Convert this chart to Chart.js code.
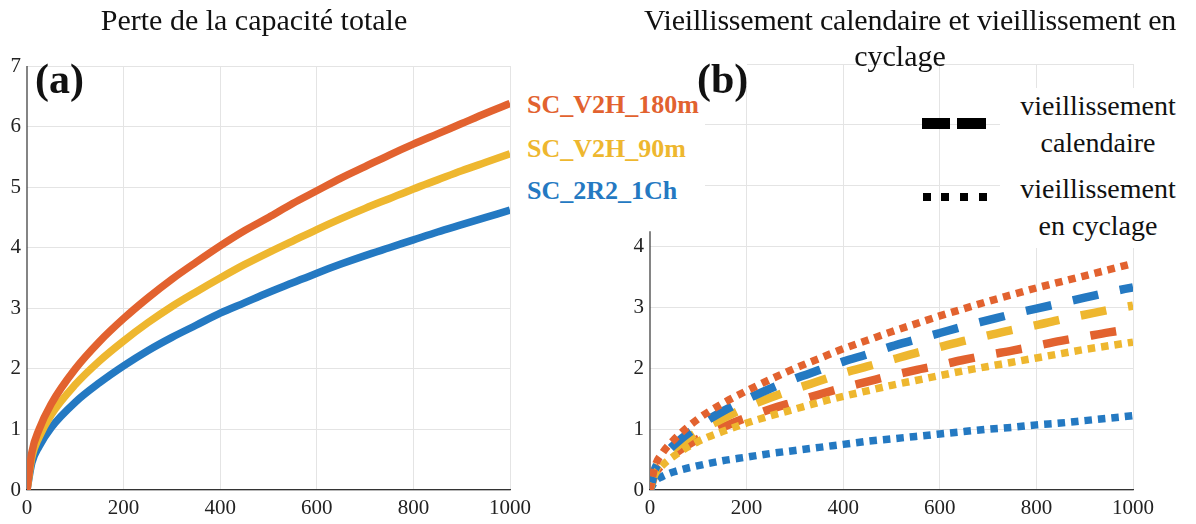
<!DOCTYPE html>
<html>
<head>
<meta charset="utf-8">
<script src="https://cdn.jsdelivr.net/npm/chart.js@4"></script>
<style>
  html, body { margin:0; padding:0; background:#fff; }
  body { width:1196px; height:524px; position:relative; overflow:hidden; font-family:"Liberation Serif","DejaVu Serif",serif; color:#111; }
  .box { position:absolute; }
  .lbl { position:absolute; white-space:nowrap; line-height:1; }
  .white { background:#fff; }
</style>
</head>
<body>
<div class="box" id="wa" style="left:0;top:0;width:560px;height:524px;"><canvas id="ca"></canvas></div>
<div class="box" id="wb" style="left:600px;top:0;width:596px;height:524px;"><canvas id="cb"></canvas></div>

<!-- titles -->
<div class="lbl" style="left:254px;top:5px;transform:translateX(-50%);font-size:30px;">Perte de la capacité totale</div>
<div class="lbl" style="left:910px;top:5px;transform:translateX(-50%);font-size:30px;letter-spacing:-0.2px;">Vieillissement calendaire et vieillissement en</div>
<div class="lbl" style="left:900px;top:41px;transform:translateX(-50%);font-size:30px;">cyclage</div>

<!-- left legend -->
<div class="lbl white" style="left:518px;top:86px;width:187px;height:124px;"></div>
<div class="lbl" style="left:527px;top:92px;font-size:26px;font-weight:bold;color:#E2622F;">SC_V2H_180m</div>
<div class="lbl" style="left:527px;top:136px;font-size:26px;font-weight:bold;color:#EEB72F;">SC_V2H_90m</div>
<div class="lbl" style="left:527px;top:178px;font-size:26px;font-weight:bold;color:#2479C2;">SC_2R2_1Ch</div>

<!-- panel labels -->
<div class="lbl" style="left:35px;top:58px;font-size:42px;font-weight:bold;">(a)</div>
<div class="lbl white" style="left:650px;top:56px;width:97px;height:30px;"></div>
<div class="lbl" style="left:697px;top:58px;font-size:42px;font-weight:bold;">(b)</div>

<!-- right legend -->
<div class="lbl white" style="left:1000px;top:88px;width:196px;height:160px;"></div>
<div class="lbl" style="left:922px;top:118px;width:28px;height:11px;background:#000;"></div>
<div class="lbl" style="left:957px;top:118px;width:29px;height:11px;background:#000;"></div>
<div class="lbl" style="left:923px;top:193px;width:8px;height:8px;background:#000;"></div>
<div class="lbl" style="left:941px;top:193px;width:8px;height:8px;background:#000;"></div>
<div class="lbl" style="left:960px;top:193px;width:8px;height:8px;background:#000;"></div>
<div class="lbl" style="left:979px;top:193px;width:8px;height:8px;background:#000;"></div>
<div class="lbl" style="left:1098px;top:92px;transform:translateX(-50%);font-size:28px;">vieillissement</div>
<div class="lbl" style="left:1098px;top:129px;transform:translateX(-50%);font-size:28px;">calendaire</div>
<div class="lbl" style="left:1098px;top:175px;transform:translateX(-50%);font-size:28px;">vieillissement</div>
<div class="lbl" style="left:1098px;top:212px;transform:translateX(-50%);font-size:28px;">en cyclage</div>

<script>
// ---- data ----
const days = [0,10,25,50,100,150,200,250,300,350,400,450,500,550,600,650,700,750,800,850,900,950,1000];

// (a) total capacity loss
const totalV2H180 = [0,0.62,1.0,1.42,2.0,2.45,2.83,3.17,3.48,3.76,4.03,4.28,4.5,4.73,4.94,5.15,5.34,5.53,5.71,5.88,6.05,6.22,6.38];
const totalV2H90  = [0,0.54,0.87,1.24,1.74,2.13,2.46,2.76,3.03,3.27,3.5,3.72,3.92,4.11,4.3,4.48,4.65,4.81,4.97,5.12,5.27,5.41,5.55];
const total2R2    = [0,0.45,0.72,1.03,1.45,1.77,2.05,2.3,2.52,2.72,2.92,3.09,3.26,3.42,3.58,3.73,3.87,4.0,4.13,4.26,4.38,4.5,4.62];

// (b) calendar ageing (dashed)
const calV2H180 = [0,0.26,0.42,0.59,0.84,1.03,1.19,1.33,1.45,1.57,1.68,1.78,1.88,1.97,2.05,2.14,2.22,2.29,2.37,2.45,2.52,2.59,2.65];
const calV2H90  = [0,0.3,0.48,0.68,0.96,1.17,1.36,1.52,1.66,1.79,1.92,2.03,2.14,2.25,2.35,2.45,2.54,2.63,2.71,2.8,2.88,2.96,3.03];
const cal2R2    = [0,0.33,0.53,0.74,1.05,1.29,1.49,1.67,1.83,1.97,2.11,2.23,2.36,2.47,2.58,2.69,2.79,2.89,2.98,3.07,3.16,3.25,3.33];

// (b) cycling ageing (dotted)
const cycV2H180 = [0,0.38,0.6,0.83,1.17,1.42,1.63,1.82,2.0,2.16,2.32,2.46,2.6,2.73,2.86,2.98,3.1,3.21,3.32,3.42,3.52,3.62,3.72];
const cycV2H90  = [0,0.25,0.4,0.56,0.8,0.96,1.1,1.22,1.33,1.44,1.54,1.63,1.72,1.8,1.88,1.96,2.03,2.1,2.17,2.24,2.31,2.37,2.43];
const cyc2R2    = [0,0.14,0.22,0.3,0.4,0.48,0.54,0.6,0.65,0.7,0.75,0.8,0.84,0.88,0.92,0.96,1.0,1.03,1.07,1.1,1.14,1.18,1.22];

const xTicks = [0,200,400,600,800,1000];
const yTicksA = [0,1,2,3,4,5,6,7];
const yTicksB = [0,1,2,3,4];

// ---- styling ----
const ORANGE = '#E2622F', YELLOW = '#EEB72F', BLUE = '#2479C2';
const GRID = '#E4E4E4', AXIS = '#333333', TXT = '#222222';
const FONT = {family:'"Liberation Serif", serif', size:21};

const pts = arr => days.map((d,i)=>({x:d, y:arr[i]}));

function lineDs(arr, color, width, dash, order){
  return {data:pts(arr), borderColor:color, backgroundColor:color, borderWidth:width,
    borderDash:dash||[], borderCapStyle:'butt', pointRadius:0, fill:false,
    cubicInterpolationMode:'monotone', order:order};
}

function xScale(){
  return {type:'linear', min:0, max:1000,
    afterBuildTicks: s => { s.ticks = xTicks.map(v=>({value:v})); },
    ticks:{font:FONT, color:TXT, padding:6, maxRotation:0, callback: v => String(v)},
    grid:{color: c => (c.tick && c.tick.value===0) ? 'rgba(0,0,0,0)' : GRID, drawTicks:false, lineWidth:1},
    border:{display:true, color:AXIS, width:1.2},
    afterFit: s => { s.height = 34; }
  };
}

// draws y-axis spine from 0 up to a given value using the scale
const spinePlugin = {
  id:'spine',
  beforeDatasetsDraw(chart, args, opts){
    const y = chart.scales.y, x = chart.scales.x;
    const ctx = chart.ctx;
    ctx.save();
    ctx.strokeStyle = AXIS; ctx.lineWidth = 1.2;
    const px = x.getPixelForValue(0);
    ctx.beginPath();
    ctx.moveTo(px, y.getPixelForValue(0));
    ctx.lineTo(px, y.getPixelForValue(opts.top));
    ctx.stroke();
    ctx.restore();
  }
};

// Chart (a)
new Chart(document.getElementById('ca'), {
  type:'line',
  data:{datasets:[
    lineDs(total2R2, BLUE, 7.5, null, 3),
    lineDs(totalV2H90, YELLOW, 7.5, null, 2),
    lineDs(totalV2H180, ORANGE, 7.5, null, 1)
  ]},
  options:{
    responsive:true, maintainAspectRatio:false, animation:false,
    layout:{padding:{left:0, right:50, top:66, bottom:0}},
    plugins:{legend:{display:false}, tooltip:{enabled:false}, spine:{top:7}},
    scales:{
      x: xScale(),
      y:{type:'linear', min:0, max:7,
        afterBuildTicks: s => { s.ticks = yTicksA.map(v=>({value:v})); },
        ticks:{font:FONT, color:TXT, padding:6},
        grid:{color:GRID, drawTicks:false},
        border:{display:false},
        afterFit: s => { s.width = 27; }
      }
    }
  },
  plugins:[spinePlugin]
});

// Chart (b)
new Chart(document.getElementById('cb'), {
  type:'line',
  data:{datasets:[
    lineDs(calV2H180, ORANGE, 8.5, [26,22], 6),
    lineDs(calV2H90, YELLOW, 8.5, [26,22], 5),
    lineDs(cal2R2, BLUE, 8.5, [26,22], 4),
    lineDs(cyc2R2, BLUE, 7.5, [7.5,6], 3),
    lineDs(cycV2H90, YELLOW, 7.5, [7.5,6], 2),
    lineDs(cycV2H180, ORANGE, 7.5, [7.5,6], 1)
  ]},
  options:{
    responsive:true, maintainAspectRatio:false, animation:false,
    layout:{padding:{left:0, right:63, top:64, bottom:0}},
    plugins:{legend:{display:false}, tooltip:{enabled:false}, spine:{top:4.25}},
    scales:{
      x: xScale(),
      y:{type:'linear', min:0, max:7,
        afterBuildTicks: s => { s.ticks = [0,1,2,3,4,5,6,7].map(v=>({value:v})); },
        ticks:{font:FONT, color:TXT, padding:6, callback: v => yTicksB.includes(v) ? String(v) : ''},
        grid:{color:GRID, drawTicks:false},
        border:{display:false},
        afterFit: s => { s.width = 50; }
      }
    }
  },
  plugins:[spinePlugin]
});
</script>
</body>
</html>
